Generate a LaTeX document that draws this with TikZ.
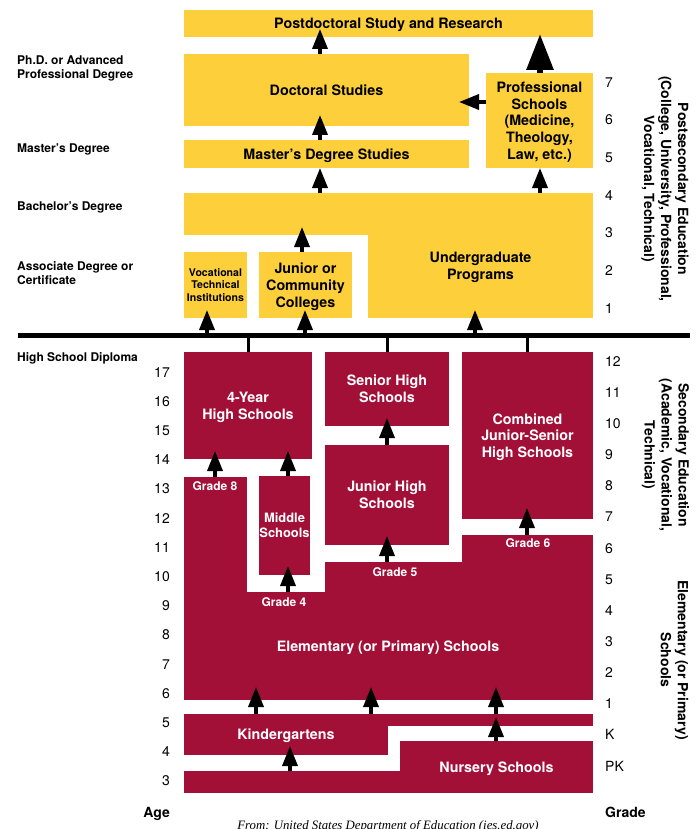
\documentclass[tikz,border=0pt]{standalone}
\usepackage{fontspec}
\setmainfont{TeX Gyre Heros}
\newfontfamily\srcfont{Liberation Serif}
\usetikzlibrary{arrows.meta,calc}
\definecolor{ybox}{RGB}{253,208,59}
\definecolor{mbox}{RGB}{162,16,56}
\newcommand\myboxf{\fontsize{14.3}{16.8}\selectfont\bfseries}
\newcommand\mysmallf{\fontsize{10.6}{12.7}\selectfont\bfseries}
\newcommand\mymidf{\fontsize{12.9}{15}\selectfont\bfseries}
\newcommand\mylabf{\fontsize{12}{14}\selectfont\bfseries}
\newcommand\mynumf{\fontsize{14}{16}\selectfont}
\newcommand\myrotf{\fontsize{14}{17}\selectfont\bfseries}
\begin{document}
\begin{tikzpicture}[x=1pt,y=-1pt,
  box/.style={anchor=north west,inner sep=0pt,outer sep=0pt,align=center,font=\myboxf,text depth=0pt},
  ybx/.style={box,fill=ybox,text=black},
  mbx/.style={box,fill=mbox,text=white},
  arr/.style={line width=3.5pt,-{Triangle[length=20pt,width=15pt]}},
  bigarr/.style={line width=6pt,-{Triangle[length=36pt,width=26pt]}},
  lab/.style={anchor=west,inner sep=0pt,font=\mylabf,align=left},
  numr/.style={anchor=mid east,inner sep=0pt,font=\mynumf},
  numl/.style={anchor=mid west,inner sep=0pt,font=\mynumf},
  gradelab/.style={inner sep=0pt,font=\mylabf,text=white},
  rotlab/.style={rotate=-90,align=center,inner sep=0pt,font=\myrotf}]
\useasboundingbox (0,0) rectangle (697,829);

% ---------- postsecondary (yellow) ----------
\node[ybx,minimum width=409pt,minimum height=27pt] (postdoc) at (184,10) {Postdoctoral Study and Research};
\node[ybx,minimum width=285pt,minimum height=72pt] (doc) at (184,54) {Doctoral Studies};
\node[ybx,minimum width=285pt,minimum height=28pt] (master) at (184,140) {Master’s Degree Studies};
\node[ybx,minimum width=107pt,minimum height=95pt] (prof) at (486,73) {Professional\\Schools\\(Medicine,\\Theology,\\Law, etc.)};
\node[ybx,minimum width=409pt,minimum height=42pt] (ugtop) at (184,193) {};
\node[ybx,minimum width=225pt,minimum height=84pt] (ug) at (368,234) {};
\node[font=\myboxf,align=center,inner sep=0pt,text depth=0pt] (ugtxt) at (480.5,266) {Undergraduate\\Programs};
\node[ybx,font=\mysmallf,minimum width=63pt,minimum height=66pt] (voc) at (184,252) {Vocational\\Technical\\Institutions};
\node[ybx,minimum width=93pt,minimum height=66pt] (jc) at (259,252) {Junior or\\Community\\Colleges};

% ---------- secondary (maroon) ----------
\node[mbx,minimum width=128pt,minimum height=107pt] (fouryr) at (184,352) {4-Year\\High Schools};
\node[mbx,minimum width=124pt,minimum height=74pt] (senior) at (325,352) {Senior High\\Schools};
\node[mbx,minimum width=124pt,minimum height=100pt] (junior) at (325,445) {Junior High\\Schools};
\node[mbx,minimum width=131pt,minimum height=167pt] (combined) at (462,352) {Combined\\Junior-Senior\\High Schools};
\node[mbx,font=\mymidf,minimum width=51pt,minimum height=99pt] (middle) at (259,476) {Middle\\Schools};

% ---------- elementary (maroon) ----------
\node[mbx,minimum width=63pt,minimum height=223pt] (g8) at (184,477) {};
\node[mbx,minimum width=80pt,minimum height=108pt] (g4) at (246,592) {};
\node[mbx,minimum width=138pt,minimum height=138pt] (g5) at (325,562) {};
\node[mbx,minimum width=131pt,minimum height=165pt] (g6) at (462,535) {};
\node[font=\myboxf,text=white,inner sep=0pt,text depth=0pt] (elemtxt) at (388,646) {Elementary (or Primary) Schools};
\node[gradelab] (g8lab) at (215,486) {Grade 8};
\node[gradelab] (g4lab) at (284,602) {Grade 4};
\node[gradelab] (g5lab) at (395,572) {Grade 5};
\node[gradelab] (g6lab) at (528,543) {Grade 6};

\node[mbx,minimum width=204pt,minimum height=41pt] (kinder) at (184,714) {Kindergartens};
\node[mbx,minimum width=206pt,minimum height=12pt] (kinderR) at (387,714) {};
\node[mbx,minimum width=193pt,minimum height=52pt] (nursery) at (400,741) {Nursery Schools};
\node[mbx,minimum width=217pt,minimum height=22pt] (nurseryL) at (184,771) {};

% ---------- diploma line ----------
\coordinate (L1) at (18,335);
\coordinate (L2) at (690,335);
\draw[line width=5pt] (L1) -- (L2);
\draw[line width=3pt] (fouryr.north) -- (fouryr.north |- L1);
\draw[line width=3pt] (senior.north) -- (senior.north |- L1);
\draw[line width=3pt] (combined.north) -- (combined.north |- L1);

% ---------- arrow columns ----------
\coordinate (ca) at (320,0);
\coordinate (cb) at (302,0);
\coordinate (cc) at (540,0);
\coordinate (cd) at (207,0);
\coordinate (ce) at (305,0);
\coordinate (cf) at (475,0);
\coordinate (cg) at (215,0);
\coordinate (ch) at (288,0);
\coordinate (ci) at (387,0);
\coordinate (cj) at (527,0);
\coordinate (ck) at (256,0);
\coordinate (cl) at (371,0);
\coordinate (cm) at (496,0);
\coordinate (cn) at (290,0);
\coordinate (cp) at (0,102);

\draw[arr] (doc.north -| ca) -- ($(postdoc.south -| ca)+(0,-8)$);
\draw[arr] (master.north -| ca) -- ($(doc.south -| ca)+(0,-11)$);
\draw[arr] (ugtop.north -| ca) -- (master.south -| ca);
\draw[arr] (jc.north -| cb) -- ($(ugtop.south -| cb)+(0,-8)$);
\draw[arr] (ugtop.north -| cc) -- (prof.south -| cc);
\draw[bigarr] (prof.north -| cc) -- ($(postdoc.south -| cc)+(0,-3)$);
\draw[arr] (prof.west |- cp) -- ($(doc.east |- cp)+(-10,0)$);
\draw[arr] (L1 -| cd) -- ($(voc.south -| cd)+(0,-8)$);
\draw[arr] (L1 -| ce) -- ($(jc.south -| ce)+(0,-8)$);
\draw[arr] (L1 -| cf) -- ($(ug.south -| cf)+(0,-8)$);
\draw[arr] (g8.north -| cg) -- ($(fouryr.south -| cg)+(0,-8)$);
\draw[arr] (middle.north -| ch) -- ($(fouryr.south -| ch)+(0,-8)$);
\draw[arr] (g4.north -| ch) -- ($(middle.south -| ch)+(0,-9)$);
\draw[arr] (g5.north -| ci) -- ($(junior.south -| ci)+(0,-9)$);
\draw[arr] (junior.north -| ci) -- ($(senior.south -| ci)+(0,-8)$);
\draw[arr] (g6.north -| cj) -- ($(combined.south -| cj)+(0,-11)$);
\draw[arr] (kinder.north -| ck) -- ($(g4.south -| ck)+(0,-13)$);
\draw[arr] (kinder.north -| cl) -- ($(g5.south -| cl)+(0,-13)$);
\draw[arr] (kinderR.north -| cm) -- ($(g6.south -| cm)+(0,-13)$);
\draw[arr] (nursery.north -| cm) -- ($(kinderR.north -| cm)+(0,3)$);
\draw[arr] (nurseryL.north -| cn) -- ($(kinder.south -| cn)+(0,-9)$);

% ---------- left labels ----------
\node[lab] (phd) at (17,68) {Ph.D. or Advanced\\Professional Degree};
\node[lab] (mdeg) at (17,149) {Master’s Degree};
\node[lab] (bdeg) at (17,207) {Bachelor’s Degree};
\node[lab] (adeg) at (17,273) {Associate Degree or\\Certificate};
\node[lab] (hsd) at (17,358) {High School Diploma};

% ---------- ages ----------
\foreach \a in {3,...,17}
  \node[numr] (age\a) at (170,{374.5+(17-\a)*29.2}) {\a};
\node[numr,font=\mynumf\bfseries] (agelab) at (170,814.5) {Age};

% ---------- grades ----------
\foreach \t [count=\i from 0] in {7,6,5,4,3,2,1}
  \node[numl] (pg\i) at (605,{84.5+\i*37.67}) {\t};
\foreach \t [count=\i from 0] in {12,11,10,9,8,7,6,5,4,3,2,1,K,PK}
  \node[numl] (gr\i) at (605,{363.5+\i*31.15}) {\t};
\node[numl,font=\mynumf\bfseries] (gradelabel) at (605,814.5) {Grade};

% ---------- rotated section labels ----------
\node[rotlab] (postsec) at (665,189) {Postsecondary Education\\(College, University, Professional,\\Vocational, Technical)};
\node[rotlab] (secondary) at (665.5,455) {Secondary Education\\(Academic, Vocational,\\Technical)};
\node[rotlab] (elementary) at (674.5,660) {Elementary (or Primary)\\Schools};

% ---------- source ----------
\node[anchor=base,inner sep=0pt,font=\srcfont\itshape\fontsize{12.8}{15}\selectfont] (src) at (388,829) {From: United States Department of Education (ies.ed.gov)};
\end{tikzpicture}
\end{document}
